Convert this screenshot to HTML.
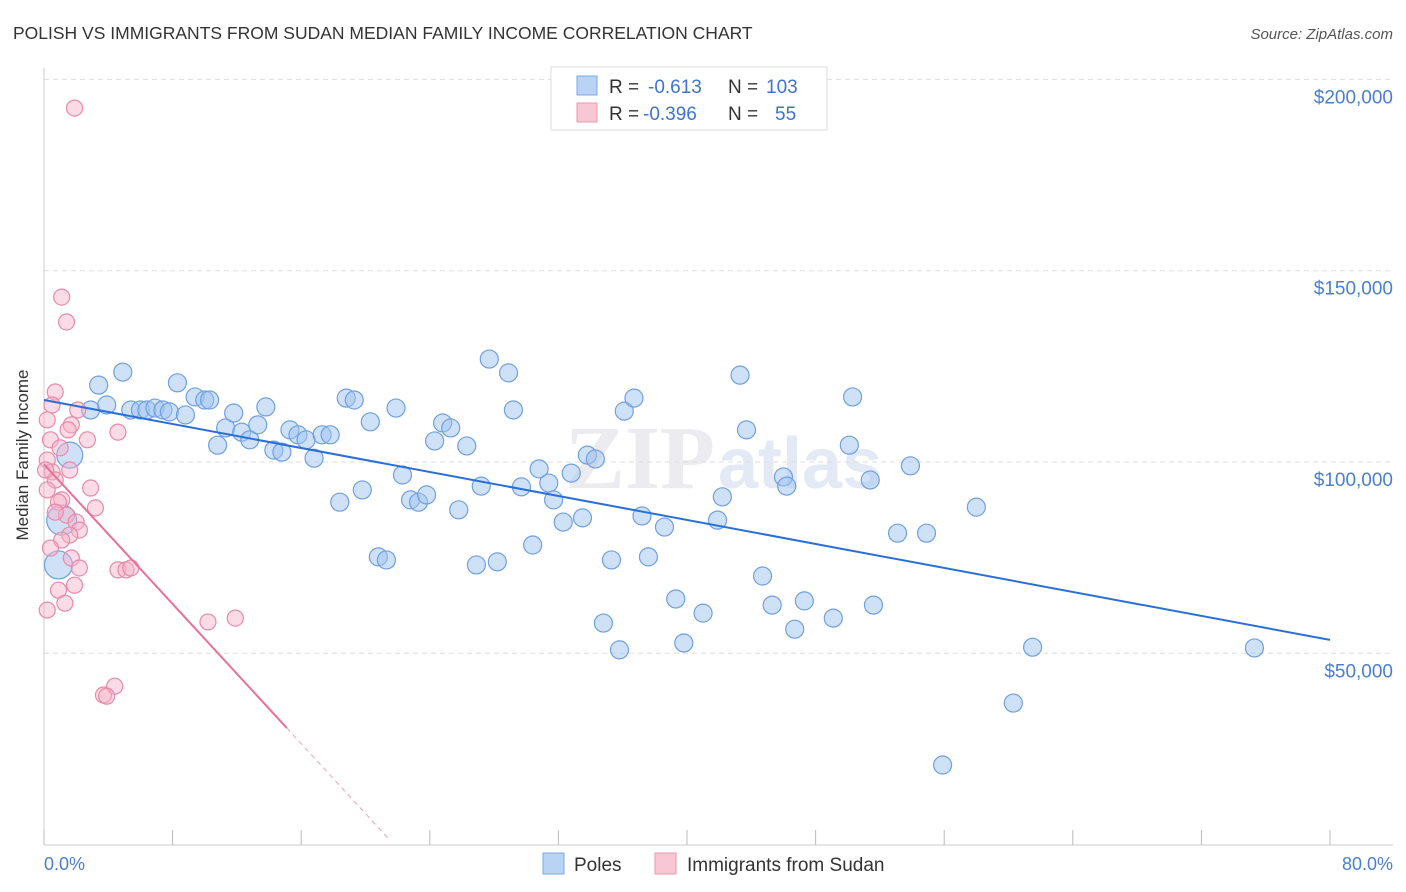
<!DOCTYPE html>
<html><head><meta charset="utf-8"><style>
body{margin:0;background:#fff;font-family:"Liberation Sans",sans-serif;}
svg{display:block}
</style></head><body>
<svg id="chart" width="1406" height="892" xmlns="http://www.w3.org/2000/svg">
<text x="13" y="39" font-size="17.5" fill="#333">POLISH VS IMMIGRANTS FROM SUDAN MEDIAN FAMILY INCOME CORRELATION CHART</text>
<text x="1393" y="39" font-size="15" fill="#555" text-anchor="end" font-style="italic">Source: ZipAtlas.com</text>
<text x="715" y="488" font-size="90" fill="#ececf0" text-anchor="end" font-family="Liberation Serif" font-weight="bold">ZIP</text>
<text x="718" y="488" font-size="72" fill="#e3eaf5" font-weight="bold">atlas</text>
<g id="grid"></g>
<line x1="44" y1="68" x2="44" y2="845" stroke="#ccc"/>
<line x1="44" y1="845" x2="1393" y2="845" stroke="#ccc"/>
<g id="ticks"></g>
<text x="28" y="455" font-size="17" fill="#333" text-anchor="middle" transform="rotate(-90 28 455)">Median Family Income</text>
<text x="44" y="870" font-size="18" fill="#4a7fd0">0.0%</text>
<text x="1393" y="870" font-size="18" fill="#4a7fd0" text-anchor="end">80.0%</text>
<g id="pts"></g>
<g id="lines"></g>
<g>
<rect x="551" y="67" width="276" height="63" fill="#fff" stroke="#ddd"/>
<rect x="577" y="76" width="20" height="19" fill="#b9d3f5" stroke="#7aa8e6"/>
<rect x="577" y="103" width="20" height="19" fill="#f9c6d5" stroke="#ec97b1"/>
<text x="609" y="93" font-size="19" fill="#333">R = </text><text x="648" y="93" font-size="19" fill="#3d74d0">-0.613</text>
<text x="728" y="93" font-size="19" fill="#333">N = </text><text x="766" y="93" font-size="19" fill="#3d74d0">103</text>
<text x="609" y="120" font-size="19" fill="#333">R = </text><text x="643" y="120" font-size="19" fill="#3d74d0">-0.396</text>
<text x="728" y="120" font-size="19" fill="#333">N = </text><text x="775" y="120" font-size="19" fill="#3d74d0">55</text>
</g>
<g>
<rect x="543" y="853" width="21" height="21" fill="#b9d3f5" stroke="#7aa8e6"/>
<text x="574" y="871" font-size="19" fill="#333">Poles</text>
<rect x="655" y="853" width="21" height="21" fill="#f9c6d5" stroke="#ec97b1"/>
<text x="687" y="871" font-size="19" fill="#333">Immigrants from Sudan</text>
</g>
</svg>
<script>
const yTicks=[50,100,150,200];
const yTickLabels=["$50,000","$100,000","$150,000","$200,000"];
const xTicks=[0,8,16,24,32,40,48,56,64,72,80];
const polesX=[1.1,0.9,1.6,2.9,3.4,3.9,4.9,5.4,6.0,6.4,6.9,7.4,7.8,8.3,8.8,9.4,10.0,10.3,10.8,11.3,11.8,12.3,12.8,13.3,13.8,14.3,14.8,15.3,15.8,16.3,16.8,17.3,17.8,18.4,18.8,19.3,19.8,20.3,20.8,21.3,21.9,22.3,22.8,23.3,23.8,24.3,24.8,25.3,25.8,26.3,26.9,27.2,27.7,28.2,28.9,29.2,29.7,30.4,30.8,31.4,31.7,32.3,32.8,33.5,33.8,34.3,34.8,35.3,35.8,36.1,36.7,37.2,37.6,38.6,39.3,39.8,41.0,41.9,42.2,43.3,43.7,44.7,45.3,46.0,46.2,46.7,47.3,49.1,50.1,50.3,51.4,51.6,53.1,53.9,54.9,55.9,58.0,60.3,61.5,75.3];
const polesY=[84.8,73.1,101.8,113.6,120.1,114.9,123.5,113.6,113.6,113.6,114.1,113.6,113.1,120.7,112.3,117.0,116.2,116.2,104.4,108.9,112.8,107.8,105.8,109.7,114.4,103.1,102.6,108.4,107.1,105.8,101.0,107.1,107.1,89.5,116.7,116.2,92.7,110.5,75.2,74.4,114.1,96.6,90.1,89.5,91.4,105.5,110.2,108.9,87.5,104.2,73.1,93.7,126.9,73.9,123.3,113.6,93.5,78.3,98.2,94.5,90.1,84.3,97.1,85.4,101.8,100.8,57.9,74.4,50.9,113.3,116.7,85.9,75.2,83.0,64.2,52.7,60.5,84.8,90.9,122.7,108.4,70.2,62.6,96.1,93.7,56.3,63.7,59.2,104.4,117.0,95.3,62.6,81.4,99.0,81.4,20.8,88.2,37.0,51.6,51.4];
const sudanX=[1.9,1.1,1.4,0.7,0.5,2.1,1.7,0.2,1.5,0.4,2.7,4.6,1.0,0.2,1.6,0.5,0.7,2.9,0.2,1.1,0.9,3.2,1.4,2.0,2.2,1.6,1.1,0.4,1.7,2.2,4.6,5.1,5.4,0.9,1.9,1.3,0.2,10.2,11.9,4.4,3.7,3.9,0.7,0.1];
const sudanY=[192.5,143.1,136.6,118.3,114.9,113.6,109.7,111.0,108.4,105.8,105.8,107.8,103.7,100.5,97.9,97.4,95.3,93.2,92.7,90.1,89.5,88.0,86.1,84.3,82.2,80.9,79.6,77.5,74.9,72.3,71.8,71.8,72.3,66.5,67.8,63.1,61.3,58.2,59.2,41.4,39.1,38.8,86.9,97.9];
const polesTrend=[[0,116.2],[80,53.5]];
const sudanTrend=[[0,99.4],[15.1,30.5],[21.4,1.7]];
const X=v=>44+v*1286/80, Y=v=>844.6-v*3.826;
const NS="http://www.w3.org/2000/svg";
function mk(tag,attrs,parent){const e=document.createElementNS(NS,tag);for(const k in attrs)e.setAttribute(k,attrs[k]);parent.appendChild(e);return e;}
const grid=document.getElementById('grid'),ticks=document.getElementById('ticks'),pts=document.getElementById('pts'),lines=document.getElementById('lines');
yTicks.forEach((t,i)=>{
 const l=mk('line',{x1:44,x2:1393,y1:Y(t),y2:Y(t),stroke:'#ddd','stroke-dasharray':'5,4'},grid);
 
 
 const tx=mk('text',{x:1393,y:Y(t)+24,'font-size':19,fill:'#4a7fd0','text-anchor':'end'},ticks);
 tx.textContent=yTickLabels[i];
 
 
});
xTicks.forEach(t=>{
 const l=mk('line',{x1:X(t),x2:X(t),y1:830,y2:845,stroke:'#bbb'},ticks);
 
 
});
const big={0:15,1:14,2:13};
polesX.forEach((x,i)=>{
 const c=mk('circle',{cx:X(x),cy:Y(polesY[i]),r:big[i]||9,fill:'rgba(160,196,240,0.5)',stroke:'#6fa0e2','stroke-width':1.2},pts);
 
 
});
sudanX.forEach((x,i)=>{
 const c=mk('circle',{cx:X(x),cy:Y(sudanY[i]),r:8,fill:'rgba(246,178,200,0.45)',stroke:'#e88aa8','stroke-width':1.2},pts);
 
 
});
const pl=mk('line',{x1:X(polesTrend[0][0]),y1:Y(polesTrend[0][1]),x2:X(polesTrend[1][0]),y2:Y(polesTrend[1][1]),stroke:'#2a6fd6','stroke-width':2},lines);


const sl=mk('line',{x1:X(sudanTrend[0][0]),y1:Y(sudanTrend[0][1]),x2:X(sudanTrend[1][0]),y2:Y(sudanTrend[1][1]),stroke:'#e8709a','stroke-width':2},lines);


const sd=mk('line',{x1:X(sudanTrend[1][0]),y1:Y(sudanTrend[1][1]),x2:X(sudanTrend[2][0]),y2:Y(sudanTrend[2][1]),stroke:'#eaa0b8','stroke-width':1,'stroke-dasharray':'5,4'},lines);


</script>
</body></html>
